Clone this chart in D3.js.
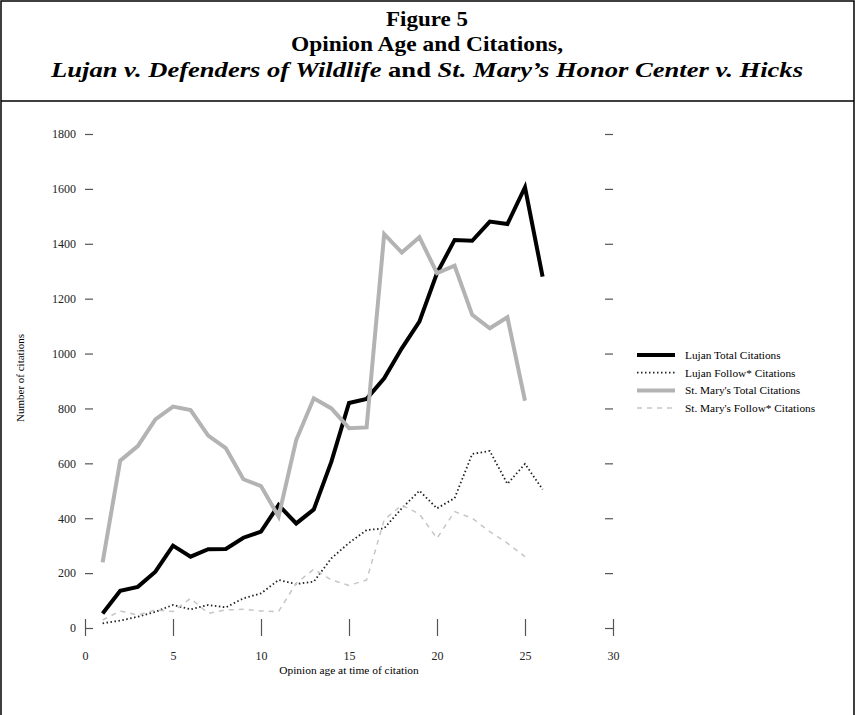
<!DOCTYPE html>
<html>
<head>
<meta charset="utf-8">
<script src="https://cdn.jsdelivr.net/npm/d3@7"></script>
<style>
  body { margin: 0; background: #fff; }
  svg { display: block; font-family: "Liberation Serif", "Times New Roman", serif; }
</style>
</head>
<body>
<svg id="chart" width="855" height="715"></svg>
<script>
// opinion age (years) for each observation
const ages = [1, 2, 3, 4, 5, 6, 7, 8, 9, 10, 11, 12, 13, 14, 15, 16, 17, 18, 19, 20, 21, 22, 23, 24, 25, 26];

const lujanTotal = [53, 136, 150, 205, 300, 260, 287, 288, 329, 351, 448, 381, 432, 606, 820, 835, 910, 1019, 1116, 1293, 1414, 1411, 1481, 1472, 1606, 1280];
const lujanFollow = [17, 27, 41, 59, 84, 68, 84, 75, 108, 126, 175, 160, 169, 254, 310, 357, 363, 436, 500, 436, 473, 634, 645, 525, 598, 505];
const stMaryTotal = [239, 610, 663, 760, 807, 794, 701, 655, 542, 517, 406, 685, 837, 800, 728, 731, 1435, 1368, 1424, 1293, 1320, 1141, 1092, 1132, 828];
const stMaryFollow = [29, 62, 47, 66, 60, 108, 53, 66, 68, 62, 60, 163, 214, 175, 155, 175, 394, 448, 415, 327, 424, 400, 351, 309, 260];

const seriesNames = ['Lujan Total Citations', 'Lujan Follow* Citations', "St. Mary's Total Citations", "St. Mary's Follow* Citations"];
const seriesValues = [lujanTotal, lujanFollow, stMaryTotal, stMaryFollow];

const xTicks = [0, 5, 10, 15, 20, 25, 30];
const yTicks = [0, 200, 400, 600, 800, 1000, 1200, 1400, 1600, 1800];

// line looks, same order as seriesNames
const looks = [
  { color: '#000', width: 4, dash: null },
  { color: '#222', width: 1.8, dash: '1.5,2.5' },
  { color: '#b3b3b3', width: 4, dash: null },
  { color: '#c6c6c6', width: 1.5, dash: '5,5' }
];

const serif = '"Liberation Serif", "Times New Roman", serif';
const svg = d3.select('#chart');

// frame + title box
svg.append('path')
  .attr('d', 'M1,715 V1 H854 V715 M1,101 H854')
  .attr('fill', 'none')
  .attr('stroke', '#000')
  .attr('stroke-width', 1.5);

// title is set in a wide book face in the original, so stretch to its width
const title = svg.append('g')
  .attr('font-weight', 'bold')
  .attr('text-anchor', 'middle')
  .attr('font-size', 22);

title.append('text').attr('x', 427).attr('y', 26)
  .attr('textLength', 82).attr('lengthAdjust', 'spacingAndGlyphs')
  .text('Figure 5');
title.append('text').attr('x', 427).attr('y', 51)
  .attr('textLength', 272).attr('lengthAdjust', 'spacingAndGlyphs')
  .text('Opinion Age and Citations,');
const t3 = title.append('text').attr('x', 427).attr('y', 77)
  .attr('textLength', 752).attr('lengthAdjust', 'spacingAndGlyphs');
t3.append('tspan').attr('font-style', 'italic').text('Lujan v. Defenders of Wildlife');
t3.append('tspan').text(' and ');
t3.append('tspan').attr('font-style', 'italic').text('St. Mary\u2019s Honor Center v. Hicks');

// scales
const x = d3.scaleLinear().domain([0, 30]).range([85, 613]);
const y = d3.scaleLinear().domain([0, 1800]).range([628, 134]);

// x axis: ticks straddle the zero line, no domain
const xAxis = svg.append('g')
  .attr('transform', `translate(0, ${y(0) - 9})`)
  .call(d3.axisBottom(x).tickValues(xTicks).tickSize(17).tickPadding(15));
xAxis.select('.domain').remove();

// y axis left
const yAxis = svg.append('g')
  .attr('transform', `translate(${x(0) + 8}, 0)`)
  .call(d3.axisLeft(y).tickValues(yTicks).tickFormat(d3.format('d')).tickSize(8).tickPadding(9));
yAxis.select('.domain').remove();

// y axis right (ticks only)
const yAxisR = svg.append('g')
  .attr('transform', `translate(${x(30) - 8}, 0)`)
  .call(d3.axisRight(y).tickValues(yTicks).tickSize(8).tickFormat(''));
yAxisR.select('.domain').remove();

[xAxis, yAxis, yAxisR].forEach((g) => g.attr('font-family', serif).attr('font-size', 12));
svg.selectAll('.tick line').attr('stroke', '#555').attr('stroke-width', 1.2);
svg.selectAll('.tick text').attr('fill', '#222');

// axis titles
svg.append('text')
  .attr('x', (x(0) + x(30)) / 2)
  .attr('y', 674)
  .attr('text-anchor', 'middle')
  .attr('font-size', 11.4)
  .text('Opinion age at time of citation');

svg.append('text')
  .attr('transform', `translate(24, 378) rotate(-90)`)
  .attr('text-anchor', 'middle')
  .attr('font-size', 11)
  .text('Number of citations');

// lines
const line = d3.line()
  .x((d) => x(d.age))
  .y((d) => y(d.value));

seriesValues.forEach((vals, i) => {
  const pts = vals.map((v, j) => ({ age: ages[j], value: v }));
  const lk = looks[i];
  svg.append('path')
    .datum(pts)
    .attr('fill', 'none')
    .attr('stroke', lk.color)
    .attr('stroke-width', lk.width)
    .attr('stroke-dasharray', lk.dash)
    .attr('d', line);
});

// legend
const legend = svg.append('g').attr('transform', 'translate(637, 355)');
seriesNames.forEach((name, i) => {
  const lk = looks[i];
  const row = legend.append('g').attr('transform', `translate(0, ${i * 17.7})`);
  row.append('line')
    .attr('x1', 0).attr('x2', 38)
    .attr('stroke', lk.color)
    .attr('stroke-width', lk.width)
    .attr('stroke-dasharray', lk.dash);
  row.append('text')
    .attr('x', 48)
    .attr('y', 4)
    .attr('font-size', 11.3)
    .text(name);
});
</script>
</body>
</html>
